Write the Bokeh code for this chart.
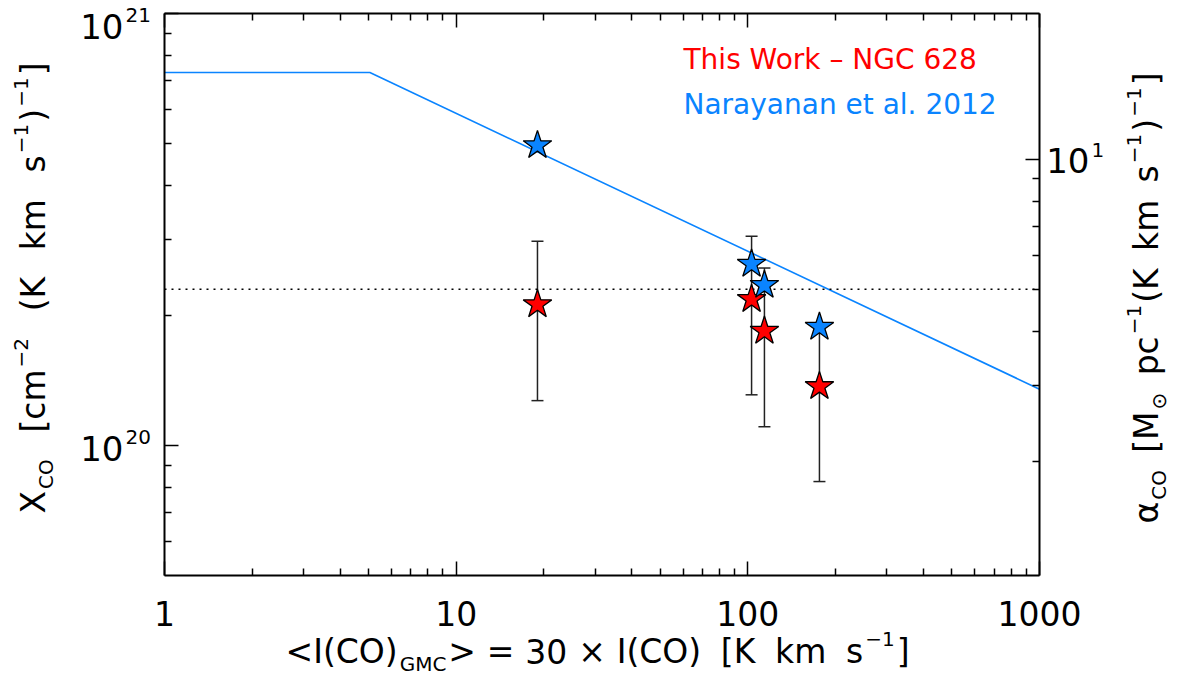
import math
from bokeh.plotting import figure
from bokeh.models import (Range1d, LogScale, LogAxis, FixedTicker, Label, Whisker, TeeHead,
                          ColumnDataSource, CustomJSTickFormatter)
from bokeh.embed import file_html
from bokeh.resources import INLINE

# ---------------- data ----------------
ico_gmc = [19.0, 103.0, 114.0, 176.0]                    # <I(CO)_GMC> [K km/s]
xco_this_work = [2.12e20, 2.18e20, 1.84e20, 1.37e20]      # red stars
xco_err = [0.85e20, 0.87e20, 0.735e20, 0.545e20]          # symmetric error bars
xco_narayanan = [4.95e20, 2.63e20, 2.35e20, 1.88e20]      # blue stars
model_ico = [1.0, 5.06, 1000.0]                           # Narayanan et al. 2012 curve
model_xco = [7.3e20, 7.3e20, 1.35e20]
xco_galactic = 2.3e20                                     # dotted line
xco_per_alpha = 4.6e19                                    # X_CO / alpha_CO conversion

x_lim = (1.0, 1000.0)
y_lim = (5e19, 1e21)
x_ticks = [1, 10, 100, 1000]
x_tick_labels = ["1", "10", "100", "1000"]
x_minor = [2, 3, 4, 5, 6, 7, 8, 9, 20, 30, 40, 50, 60, 70, 80, 90,
           200, 300, 400, 500, 600, 700, 800, 900]
y_ticks = [1e20, 1e21]
y_minor = [6e19, 7e19, 8e19, 9e19, 2e20, 3e20, 4e20, 5e20, 6e20, 7e20, 8e20, 9e20]
a_ticks = [10]
a_minor = [2, 3, 4, 5, 6, 7, 8, 9]

RED = "#ff0000"
BLUE = "#0a84ff"
FONT = "DejaVu Sans"

# ---------------- layout (canvas pixels) ----------------
W, H = 1172, 676
FL, FR, FT, FB = 164, 1039, 13, 575      # axes box inside the canvas
x_dec = (FR - FL) / math.log10(x_lim[1] / x_lim[0])
y_dec = (FB - FT) / math.log10(y_lim[1] / y_lim[0])
cx0 = x_lim[0] * 10 ** (-FL / x_dec)
cx1 = x_lim[1] * 10 ** ((W - FR) / x_dec)
cy0 = y_lim[0] * 10 ** (-(H - FB) / y_dec)
cy1 = y_lim[1] * 10 ** (FT / y_dec)

p = figure(width=W, height=H, x_axis_type="log", y_axis_type="log",
           x_range=Range1d(cx0, cx1), y_range=Range1d(cy0, cy1),
           output_backend="svg", toolbar_location=None, min_border=0)
p.title.visible = False
p.grid.visible = False
p.outline_line_color = None
p.background_fill_color = "white"
p.border_fill_color = "white"

p.extra_y_ranges = {"alpha": Range1d(cy0 / xco_per_alpha, cy1 / xco_per_alpha)}
p.extra_y_scales = {"alpha": LogScale()}


def style_axis(ax, ticks, minor, hide_labels=True):
    ax.ticker = FixedTicker(ticks=ticks, minor_ticks=minor)
    ax.major_tick_in = 14
    ax.major_tick_out = 0
    ax.minor_tick_in = 7
    ax.minor_tick_out = 0
    ax.major_tick_line_width = 1.5
    ax.minor_tick_line_width = 1.5
    ax.major_tick_line_color = "black"
    ax.minor_tick_line_color = "black"
    ax.axis_line_width = 2
    ax.axis_line_color = "black"
    if hide_labels:
        ax.formatter = CustomJSTickFormatter(code="return ''")
        ax.major_label_standoff = 0
        ax.major_label_text_font_size = "1px"


bx = p.xaxis[0]
style_axis(bx, x_ticks, x_minor, hide_labels=False)
bx.fixed_location = y_lim[0]
bx.bounds = x_lim
bx.major_label_overrides = {t: s for t, s in zip(x_ticks, x_tick_labels)}
bx.major_label_text_font = FONT
bx.major_label_text_font_size = "33px"
bx.major_label_text_color = "black"
bx.major_label_standoff = 25

ly = p.yaxis[0]
style_axis(ly, y_ticks, y_minor)
ly.fixed_location = x_lim[0]
ly.bounds = y_lim

top_ax = LogAxis(fixed_location=y_lim[1], bounds=x_lim)
style_axis(top_ax, x_ticks, x_minor)
p.add_layout(top_ax, "above")

right_ax = LogAxis(y_range_name="alpha", fixed_location=x_lim[1],
                   bounds=(y_lim[0] / xco_per_alpha, y_lim[1] / xco_per_alpha))
style_axis(right_ax, a_ticks, a_minor)
p.add_layout(right_ax, "right")

# ---------------- marks ----------------
p.line(model_ico, model_xco, line_color=BLUE, line_width=1.6)
p.line(list(x_lim), [xco_galactic, xco_galactic], line_color="black",
       line_width=1.5, line_dash="2 5")

lower = [v - e for v, e in zip(xco_this_work, xco_err)]
upper = [v + e for v, e in zip(xco_this_work, xco_err)]
err_src = ColumnDataSource(dict(x=ico_gmc, lower=lower, upper=upper))
p.add_layout(Whisker(base="x", lower="lower", upper="upper", source=err_src, dimension="height",
                     line_color="#222222", line_width=1.5,
                     upper_head=TeeHead(size=12, line_color="#222222", line_width=1.5),
                     lower_head=TeeHead(size=12, line_color="#222222", line_width=1.5)))

p.scatter(ico_gmc, xco_this_work, marker="star", size=30, fill_color=RED,
          line_color="black", line_width=1.3)
p.scatter(ico_gmc, xco_narayanan, marker="star", size=30, fill_color=BLUE,
          line_color="black", line_width=1.3)


# ---------------- texts ----------------
def page_label(text, px, py, size, color="black", angle=0.0, align="left"):
    # (px, py): canvas point on the text's middle line
    return Label(x=x_lim[0], y=y_lim[1], x_offset=px - FL, y_offset=FT - py,
                 text=text, angle=angle, text_align=align, text_baseline="middle",
                 text_font=FONT, text_font_size=f"{size}px", text_color=color)


MID = 0.35   # middle line sits this fraction of the font size above the baseline

# legend
p.add_layout(page_label("This Work \u2013 NGC 628", 683, 59, 28, RED))
p.add_layout(page_label("Narayanan et al. 2012", 683, 104, 28, BLUE))

# y tick labels (10 with superscript exponent)
p.add_layout(page_label("10", 123, 26, 34, align="right"))
p.add_layout(page_label("21", 125, 14, 20))
p.add_layout(page_label("10", 123, 448, 34, align="right"))
p.add_layout(page_label("20", 125, 436, 20))
p.add_layout(page_label("10", 1089, 160, 34, align="right"))
p.add_layout(page_label("1", 1091, 149, 20))

# axis titles composed of pieces (main text, subscripts, superscripts)
EM = {" ": 0.318, "<": 0.838, ">": 0.838, "=": 0.838, "\u00d7": 0.838, "\u2212": 0.838,
      "I": 0.295, "(": 0.390, ")": 0.390, "[": 0.390, "]": 0.390, "C": 0.698, "O": 0.787,
      "G": 0.775, "M": 0.863, "X": 0.685, "K": 0.656, "k": 0.579, "m": 0.974, "s": 0.521,
      "c": 0.550, "p": 0.635, "\u03b1": 0.659, "\u2299": 0.838}
SIZE = {"main": 33, "sub": 20, "sup": 20}
SHIFT = {"main": 0, "sub": -7, "sup": 18}
GAPW = {"t": 0.0, "m": 0.5, "w": 1.0}
TIGHT = 2


def tw(s, size):
    return sum(EM.get(c, 0.636) for c in s) * size


def run(pieces, start, end, base, vertical):
    widths = [tw(t, SIZE[r]) for t, r, g in pieces]
    gaps = [g for t, r, g in pieces[1:]]
    wsum = sum(GAPW[g] for g in gaps)
    extra = (abs(end - start) - sum(widths) - TIGHT * len(gaps)) / wsum
    pos = start
    for i, (t, r, g) in enumerate(pieces):
        if i > 0:
            step = widths[i - 1] + TIGHT + GAPW[g] * extra
            pos = pos - step if vertical else pos + step
        mid = base - SHIFT[r] - MID * SIZE[r]
        if vertical:
            p.add_layout(page_label(t, mid, pos, SIZE[r], angle=math.pi / 2))
        else:
            p.add_layout(page_label(t, pos, mid, SIZE[r]))


bottom_title = [("<I(CO)", "main", "t"), ("GMC", "sub", "t"), (">", "main", "t"),
                ("=", "main", "m"), ("30", "main", "m"), ("\u00d7", "main", "m"),
                ("I(CO)", "main", "m"), ("[K", "main", "w"), ("km", "main", "w"),
                ("s", "main", "w"), ("\u22121", "sup", "t"), ("]", "main", "t")]
left_title = [("X", "main", "t"), ("CO", "sub", "t"), ("[cm", "main", "w"),
              ("\u22122", "sup", "t"), ("(K", "main", "w"), ("km", "main", "w"),
              ("s", "main", "w"), ("\u22121", "sup", "t"), (")", "main", "t"),
              ("\u22121", "sup", "t"), ("]", "main", "t")]
right_title = [("\u03b1", "main", "t"), ("CO", "sub", "t"), ("[M", "main", "w"),
               ("\u2299", "sub", "t"), ("pc", "main", "w"), ("\u22121", "sup", "t"),
               ("(K", "main", "t"), ("km", "main", "w"), ("s", "main", "w"),
               ("\u22121", "sup", "t"), (")", "main", "t"), ("\u22121", "sup", "t"),
               ("]", "main", "t")]

run(bottom_title, 285, 909, 663, vertical=False)
run(left_title, 513, 62, 45, vertical=True)
run(right_title, 523, 72, 1158, vertical=True)

open("out.html", "w").write(file_html(p, INLINE))
